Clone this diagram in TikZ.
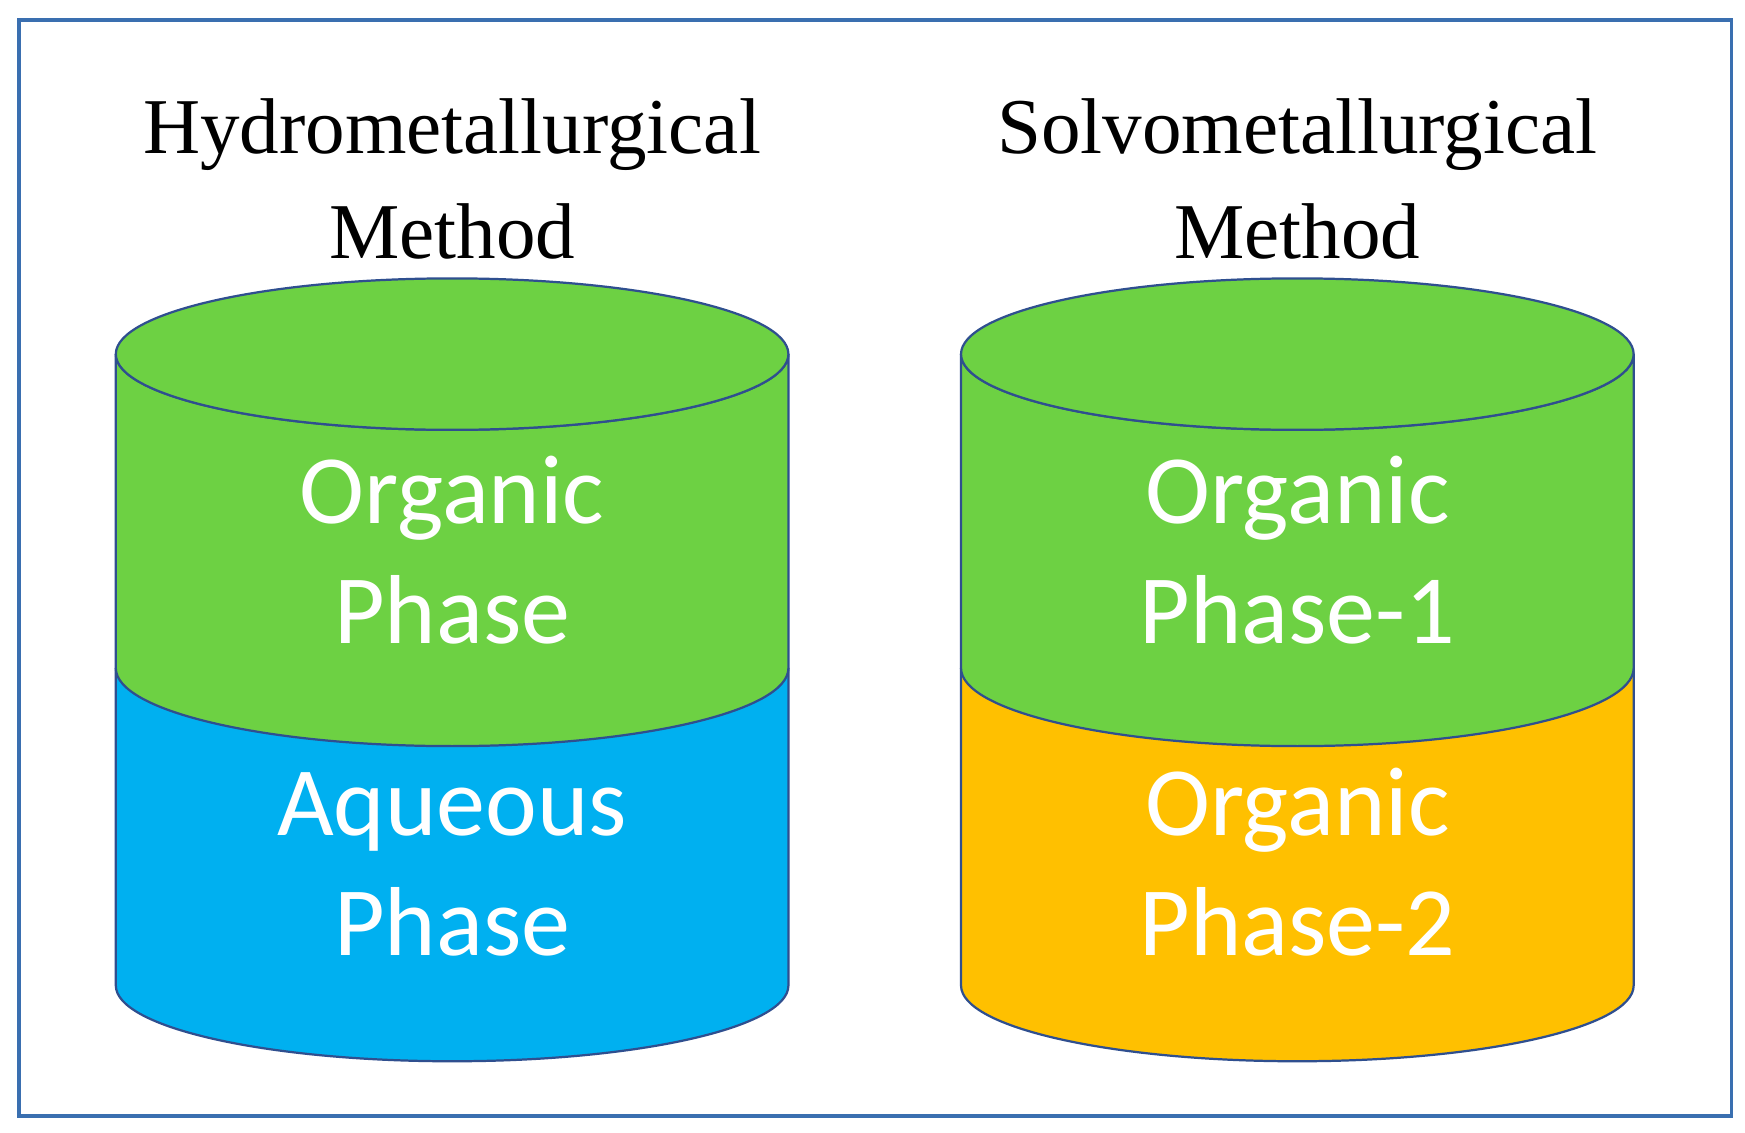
\documentclass[tikz,border=0pt]{standalone}
\usepackage{fontspec}
\setmainfont{Liberation Serif}
\newfontfamily\carfont{Carlito}
\definecolor{ogreen}{HTML}{6DD143}
\definecolor{oblue}{HTML}{00B0F0}
\definecolor{oorange}{HTML}{FFC000}
\definecolor{edge}{HTML}{2F4F8F}
\definecolor{frame}{HTML}{3A6FB0}
\begin{document}
\begin{tikzpicture}[x={(1pt,0)},y={(0,-1pt)},
  sec/.style={draw=edge,line width=2pt,line join=round},
  title/.style={font=\fontsize{71}{94}\selectfont,align=center,text=black,inner sep=0},
  lab/.style={font=\carfont\fontsize{88}{108}\selectfont,align=center,text=white,inner sep=0}]
\useasboundingbox (0,0) rectangle (1567,1017);
\fill[white] (0,0) rectangle (1567,1017);
\draw[frame,line width=3pt] (17,18) rectangle (1555,1002);
\foreach \cx/\low/\nm in {406/oblue/L,1165/oorange/R}{
  \pgfmathsetmacro\xl{\cx-302}
  \pgfmathsetmacro\xr{\cx+302}
  \draw[sec,fill=\low] (\xl,600) -- (\xl,885) arc[start angle=180,end angle=0,x radius=302,y radius=68] -- (\xr,600) -- cycle;
  \draw[sec,fill=ogreen] (\xl,318) -- (\xl,600) arc[start angle=180,end angle=0,x radius=302,y radius=70] -- (\xr,318) arc[start angle=0,end angle=180,x radius=302,y radius=68];
  \draw[sec,fill=ogreen] (\cx,318) ellipse[x radius=302,y radius=68];
}
\node[title,anchor=base] (t1) at (406,138) {Hydrometallurgical};
\node[title,anchor=base] (t2) at (406,232) {Method};
\node[title,anchor=base] (t3) at (1165,138) {Solvometallurgical};
\node[title,anchor=base] (t4) at (1165,232) {Method};
\node[lab,anchor=base] (a1) at (406,470) {Organic};
\node[lab,anchor=base] (a2) at (406,578) {Phase};
\node[lab,anchor=base] (a3) at (406,750) {Aqueous};
\node[lab,anchor=base] (a4) at (406,858) {Phase};
\node[lab,anchor=base] (b1) at (1165,470) {Organic};
\node[lab,anchor=base] (b2) at (1165,578) {Phase-1};
\node[lab,anchor=base] (b3) at (1165,750) {Organic};
\node[lab,anchor=base] (b4) at (1165,858) {Phase-2};
\end{tikzpicture}
\end{document}
